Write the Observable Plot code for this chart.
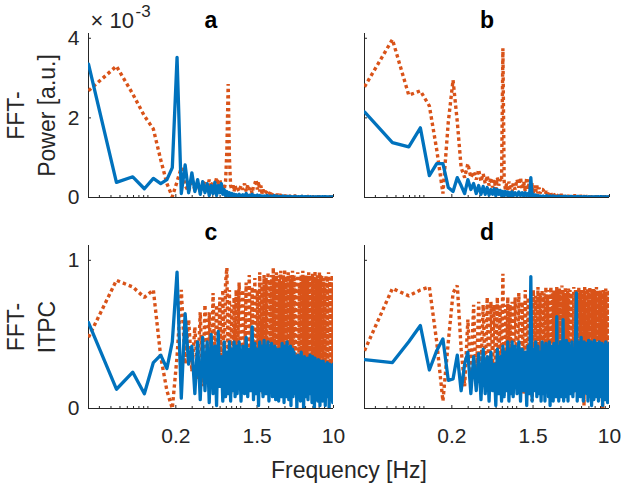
<!DOCTYPE html>
<html><head><meta charset="utf-8">
<script src="https://cdn.jsdelivr.net/npm/d3@7"></script>
<script src="https://cdn.jsdelivr.net/npm/@observablehq/plot@0.6"></script>
<style>
body{margin:0;background:#fff;}
#fig{position:relative;width:626px;height:485px;overflow:hidden;background:#fff;}
#fig svg{position:absolute;left:0;top:0;}
</style></head><body><div id="fig"></div>
<script>
// FFT bin spacing (Hz) and the bins that are drawn
const df = 0.0229;
const binsPower = [1,2,3,4,5,6,7,8,9,10,11,12,13,14,15,16,17,18,19,20,21,22,23,24,25,26,27,28,29,30,31,32,33,34,35,36,37,38,39,40,
  42,44,46,48,50,52,54,56,58,60,62,64,66,68,70,72,74,76,78,80,
  84,88,92,96,100,104,108,112,116,120,124,128,132,136,140,144,148,152,156,160,
  168,176,184,192,200,208,216,224,232,240,248,256,264,272,280,288,296,304,312,320,
  332,344,356,368,380,392,404,416,428,437];
const binsItpc = [1,2,3,4,5,6,7,8,9,10,11,12,13,14,15,16,17,18,19,20,21,22,23,24,25,26,27,28,29,30,31,32,33,34,35,36,37,38,39,40,
  42,44,46,48,50,52,54,56,58,60,62,64,66,68,70,72,74,76,78,80,
  82,84,86,88,90,92,94,96,98,100,102,104,106,108,110,112,114,116,118,120,122,124,126,128,130,132,134,136,138,140,142,144,146,148,150,152,154,156,158,160,
  164,168,172,176,180,184,188,192,196,200,204,208,212,216,220,224,228,232,236,240,244,248,252,256,260,264,268,272,276,280,284,288,292,296,300,304,308,312,316,320,
  326,332,338,344,350,356,362,368,374,380,386,392,398,404,410,416,422,428,434,437];

const xTicks = [0.2, 1.5, 10];
const xTickLabels = ["0.2", "1.5", "10"];
const xMinorTicks = [0.03,0.04,0.05,0.06,0.07,0.08,0.09,0.1,0.3,0.4,0.5,0.6,0.7,0.8,0.9,1,2,3,4,5,6,7,8,9];
const powerTicks = [0, 2, 4];        // x10^-3
const powerTickLabels = ["0", "2", "4"];
const itpcTicks = [0, 1];
const itpcTickLabels = ["0", "1"];

// Panel a: FFT power (x10^-3)
const powerA_blue = [3.35,0.38,0.52,0.22,0.48,0.35,0.45,0.75,3.52,0.1, 0.82,0.12,0.62,0.15,0.45,0.08,0.4,0.12,0.35,0.05, 0.3,0.1,0.38,0.05,0.3,0.12,0.35,0.08,0.2,0.05, 0.15,0.05,0.12,0.04,0.1,0.03,0.08,0.03,0.07,0.02,
  0.08,0.02,0.07,0.03,0.1,0.02,0.06,0.03,0.08,0.02,0.05,0.02,0.06,0.01,0.05,0.02,0.04,0.01,0.04,0.02,
  0.05,0.02,0.04,0.01,0.05,0.02,0.04,0.01,0.03,0.01,0.04,0.02,0.03,0.01,0.03,0.01,0.03,0.01,0.02,0.01,
  0.03,0.01,0.02,0.01,0.03,0.01,0.02,0.01,0.02,0.01,0.02,0.01,0.02,0.01,0.02,0.01,0.02,0.01,0.02,0.01,
  0.02,0.01,0.02,0.01,0.02,0.01,0.02,0.01,0.02,0.01];
const powerA_orange = [2.68,3.3,2.6,2.05,1.72,0.95,0.35,0.02,0.4,0.75, 0.3,0.15,0.45,0.2,0.35,0.15,0.3,0.4,0.2,0.45, 0.25,0.4,0.3,0.5,0.3,0.45,0.25,0.35,0.2,0.4, 1.2,2.85,1.0,0.3,0.2,0.35,0.15,0.3,0.2,0.25,
  0.15,0.3,0.2,0.35,0.15,0.3,0.2,0.25,0.1,0.3,0.35,0.45,0.2,0.4,0.15,0.3,0.1,0.2,0.1,0.15,
  0.12,0.05,0.15,0.06,0.1,0.04,0.08,0.03,0.07,0.03,0.06,0.02,0.05,0.02,0.05,0.02,0.04,0.02,0.04,0.02,
  0.04,0.02,0.04,0.01,0.03,0.02,0.03,0.01,0.03,0.01,0.03,0.01,0.02,0.01,0.02,0.01,0.02,0.01,0.02,0.01,
  0.02,0.01,0.02,0.01,0.02,0.01,0.02,0.01,0.02,0.01];

// Panel b: FFT power (x10^-3)
const powerB_blue = [2.15,1.38,1.27,1.75,0.55,0.85,0.85,0.25,0.15,0.5, 0.3,0.1,0.45,0.2,0.35,0.1,0.3,0.08,0.28,0.08, 0.25,0.06,0.2,0.08,0.22,0.05,0.2,0.08,0.18,0.05, 0.15,0.05,0.15,0.06,0.14,0.04,0.12,0.05,0.14,0.04,
  0.12,0.04,0.14,0.05,0.12,0.03,0.12,0.05,0.1,0.03,0.5,0.03,0.08,0.02,0.06,0.02,0.05,0.01,0.04,0.02,
  0.04,0.01,0.05,0.02,0.04,0.01,0.04,0.02,0.03,0.01,0.04,0.01,0.03,0.01,0.03,0.01,0.03,0.01,0.02,0.01,
  0.03,0.01,0.02,0.01,0.03,0.01,0.02,0.01,0.02,0.01,0.02,0.01,0.02,0.01,0.02,0.01,0.02,0.01,0.02,0.01,
  0.02,0.01,0.02,0.01,0.02,0.01,0.02,0.01,0.02,0.01];
const powerB_orange = [2.78,3.97,2.57,2.68,2.3,1.2,0.1,1.9,2.95,1.9, 0.75,0.5,0.85,0.5,0.65,0.45,0.7,0.4,0.6,0.35, 0.55,0.3,0.5,0.25,0.45,0.2,0.5,0.3,0.45,0.4, 3.75,0.4,0.2,0.35,0.15,0.4,0.2,0.3,0.15,0.35,
  0.2,0.45,0.25,0.5,0.2,0.4,0.15,0.5,0.2,0.45,0.15,0.35,0.1,0.3,0.15,0.3,0.1,0.25,0.1,0.2,
  0.2,0.08,0.15,0.06,0.15,0.05,0.12,0.04,0.1,0.04,0.08,0.03,0.08,0.03,0.06,0.02,0.05,0.02,0.05,0.02,
  0.05,0.02,0.05,0.02,0.04,0.02,0.04,0.01,0.03,0.01,0.03,0.01,0.03,0.01,0.02,0.01,0.02,0.01,0.02,0.01,
  0.02,0.01,0.02,0.01,0.02,0.01,0.02,0.01,0.02,0.01];

// Panel c: FFT ITPC
const itpcC_blue = [0.58,0.13,0.245,0.1,0.31,0.36,0.27,0.45,0.92,0.07, 0.64,0.3,0.42,0.1,0.45,0.06,0.48,0.12,0.45,0.04, 0.5,0.1,0.42,0.02,0.52,0.15,0.35,0.05,0.45,0.08, 0.38,0.1,0.45,0.05,0.4,0.12,0.45,0.08,0.42,0.1,
  0.45,0.05,0.42,0.1,0.48,0.08,0.4,0.12,0.55,0.06,0.44,0.1,0.4,0.02,0.45,0.12,0.42,0.08,0.46,0.1,
  0.42,0.1,0.45,0.05,0.4,0.12,0.44,0.08,0.38,0.1,0.42,0.06,0.4,0.12,0.38,0.05,0.4,0.1,0.36,0.08, 0.44,0.12,0.4,0.04,0.42,0.1,0.38,0.08,0.45,0.14,0.4,0.06,0.36,0.1,0.42,0.02,0.38,0.12,0.4,0.08,
  0.38,0.1,0.35,0.0,0.36,0.12,0.34,0.05,0.38,0.1,0.32,0.0,0.35,0.08,0.3,0.1,0.34,0.06,0.32,0.1, 0.36,0.12,0.33,0.04,0.35,0.1,0.31,0.0,0.34,0.08,0.32,0.12,0.3,0.05,0.33,0.1,0.31,0.02,0.32,0.08,
  0.3,0.05,0.32,0.1,0.28,0.02,0.3,0.08,0.31,0.1,0.28,0.0,0.3,0.06,0.29,0.1,0.27,0.04,0.3,0.2];
const itpcC_orange = [0.48,0.865,0.82,0.75,0.8,0.35,0.12,0.0,0.35,0.8, 0.3,0.6,0.25,0.55,0.2,0.65,0.15,0.7,0.25,0.65, 0.2,0.78,0.3,0.7,0.15,0.75,0.25,0.8,0.2,0.85, 0.95,0.2,0.8,0.1,0.7,0.2,0.75,0.15,0.8,0.2,
  0.85,0.15,0.8,0.25,0.85,0.1,0.9,0.2,0.82,0.15,0.88,0.1,0.8,0.2,0.92,0.15,0.85,0.1,0.9,0.2,
  0.88,0.15,0.92,0.1,0.85,0.2,0.9,0.12,0.95,0.15,0.88,0.1,0.92,0.2,0.85,0.15,0.9,0.1,0.93,0.2, 0.86,0.12,0.9,0.18,0.94,0.1,0.87,0.2,0.9,0.14,0.92,0.1,0.85,0.2,0.9,0.12,0.88,0.16,0.93,0.1,
  0.9,0.15,0.88,0.1,0.92,0.2,0.85,0.12,0.9,0.15,0.93,0.1,0.88,0.2,0.9,0.15,0.87,0.1,0.92,0.15, 0.9,0.12,0.86,0.2,0.91,0.1,0.89,0.15,0.93,0.12,0.88,0.2,0.9,0.1,0.87,0.15,0.92,0.12,0.9,0.18,
  0.9,0.1,0.88,0.2,0.85,0.15,0.9,0.1,0.87,0.18,0.92,0.12,0.88,0.15,0.86,0.1,0.9,0.2,0.85,0.6];

// Panel d: FFT ITPC
const itpcD_blue = [0.33,0.31,0.45,0.56,0.26,0.39,0.47,0.19,0.2,0.36, 0.12,0.3,0.38,0.1,0.35,0.12,0.37,0.06,0.4,0.1, 0.35,0.05,0.38,0.12,0.3,0.02,0.4,0.1,0.35,0.05, 0.42,0.08,0.38,0.12,0.45,0.05,0.4,0.1,0.45,0.08,
  0.42,0.1,0.45,0.05,0.4,0.12,0.38,0.02,0.42,0.1,0.89,0.05,0.4,0.12,0.45,0.08,0.42,0.1,0.38,0.05,
  0.45,0.1,0.42,0.05,0.44,0.12,0.4,0.08,0.45,0.02,0.42,0.1,0.4,0.05,0.44,0.1,0.4,0.08,0.62,0.1, 0.42,0.05,0.4,0.12,0.45,0.08,0.42,0.1,0.6,0.05,0.44,0.1,0.4,0.08,0.46,0.1,0.42,0.05,0.44,0.1,
  0.42,0.1,0.45,0.08,0.4,0.12,0.45,0.78,0.05,0.45,0.12,0.4,0.08,0.48,0.1,0.42,0.05,0.45,0.12,0.4, 0.44,0.1,0.42,0.05,0.46,0.12,0.4,0.08,0.45,0.02,0.43,0.1,0.4,0.06,0.46,0.12,0.42,0.08,0.44,0.1,
  0.4,0.05,0.45,0.1,0.42,0.08,0.44,0.02,0.4,0.1,0.43,0.06,0.45,0.12,0.4,0.04,0.42,0.1,0.44,0.3];
const itpcD_orange = [0.39,0.81,0.76,0.8,0.82,0.45,0.05,0.45,0.78,0.83, 0.4,0.15,0.6,0.2,0.7,0.15,0.72,0.25,0.7,0.2, 0.75,0.15,0.72,0.3,0.7,0.15,0.75,0.2,0.7,0.3, 0.91,0.2,0.7,0.15,0.75,0.25,0.7,0.1,0.72,0.2,
  0.75,0.15,0.78,0.25,0.72,0.1,0.8,0.2,0.75,0.15,0.78,0.05,0.8,0.2,0.76,0.15,0.82,0.1,0.78,0.2,
  0.8,0.15,0.78,0.1,0.82,0.2,0.75,0.12,0.8,0.15,0.82,0.05,0.78,0.2,0.8,0.15,0.76,0.1,0.82,0.2, 0.79,0.12,0.81,0.18,0.77,0.1,0.83,0.15,0.8,0.2,0.78,0.1,0.82,0.14,0.76,0.2,0.8,0.1,0.81,0.16,
  0.8,0.15,0.78,0.1,0.82,0.2,0.8,0.12,0.78,0.15,0.82,0.1,0.8,0.2,0.78,0.15,0.8,0.02,0.82,0.15, 0.79,0.12,0.81,0.2,0.78,0.1,0.82,0.15,0.8,0.05,0.79,0.18,0.81,0.12,0.8,0.15,0.78,0.1,0.82,0.2,
  0.8,0.1,0.78,0.2,0.8,0.15,0.78,0.0,0.8,0.12,0.79,0.18,0.81,0.1,0.8,0.15,0.78,0.05,0.8,0.6];

const BLUE = "#0072BD", ORANGE = "#D95319", AX = "#262626";
const FONT = "'Liberation Sans', Arial, Helvetica, sans-serif";
const W = 626, H = 485;

function rows(bins, vals) { return bins.map((k, i) => ({f: k * df, v: vals[i]})); }

function panel(o) {
  const tickY = o.ymax * 3 / (o.B - o.T);
  const minorY = o.ymax * 2 / (o.B - o.T);
  const tickXr = df * Math.pow(10 / df, 3 / (o.R - o.L));
  const marks = [
    Plot.ruleX([df], {x: d => d, stroke: AX, strokeWidth: 1}),
    Plot.ruleY([0], {y: d => d, stroke: AX, strokeWidth: 1}),
    Plot.ruleX(xTicks, {x: d => d, y1: 0, y2: tickY, stroke: AX, strokeWidth: 1}),
    Plot.ruleX(xMinorTicks, {x: d => d, y1: 0, y2: minorY, stroke: AX, strokeWidth: 1}),
    Plot.ruleY(o.yTicks, {y: d => d, x1: df, x2: tickXr, stroke: AX, strokeWidth: 1}),
    Plot.line(rows(o.bins, o.orange), {x: "f", y: "v", stroke: ORANGE, strokeWidth: 3.4, strokeDasharray: "3.4,3", strokeLinecap: "butt", strokeLinejoin: "miter", clip: true}),
    Plot.line(rows(o.bins, o.blue), {x: "f", y: "v", stroke: BLUE, strokeWidth: 3.3, clip: true}),
    Plot.text([o.title], {text: d => d, frameAnchor: "top", dy: -13, fontSize: 23, fontWeight: "bold", fill: "#000", textAnchor: "middle", lineAnchor: "middle"})
  ];
  if (o.xLabels) {
    marks.push(Plot.text(xTicks, {x: d => d, text: (d, i) => xTickLabels[i], frameAnchor: "bottom", dy: 20, lineAnchor: "top", textAnchor: "middle", fontSize: 21, fill: AX}));
  }
  if (o.yLabels) {
    marks.push(Plot.text(o.yTicks, {y: d => d, text: (d, i) => o.yTickLabels[i], frameAnchor: "left", dx: -9, textAnchor: "end", lineAnchor: "middle", fontSize: 21, fill: AX}));
    marks.push(Plot.text([o.ylabel], {text: d => d, frameAnchor: "left", dx: -58.5, rotate: -90, fontSize: 23, lineHeight: 1.35, textAnchor: "middle", lineAnchor: "middle", fill: AX}));
  }
  if (o.extra) marks.push(...o.extra);
  return Plot.plot({
    width: W, height: H,
    marginLeft: o.L, marginRight: W - o.R, marginTop: o.T, marginBottom: H - o.B,
    style: {background: "transparent", fontFamily: FONT, fontSize: "21px", color: AX, overflow: "visible"},
    x: {type: "log", domain: [df, 10], axis: null},
    y: {domain: [0, o.ymax], axis: null},
    marks
  });
}

const fig = document.getElementById("fig");
fig.append(panel({L: 88, R: 333, T: 33, B: 197, ymax: 4.12, yTicks: powerTicks, yTickLabels: powerTickLabels, yLabels: true, xLabels: false,
  title: "a", ylabel: "FFT-\nPower [a.u.]", bins: binsPower, blue: powerA_blue, orange: powerA_orange,
  extra: [
    Plot.text(["× 10"], {text: d => d, frameAnchor: "top-left", dx: 2, dy: -13, textAnchor: "start", lineAnchor: "middle", fontSize: 22, fill: AX}),
    Plot.text(["-3"], {text: d => d, frameAnchor: "top-left", dx: 47, dy: -22, textAnchor: "start", lineAnchor: "middle", fontSize: 17, fill: AX})
  ]}));
fig.append(panel({L: 364, R: 609, T: 33, B: 197, ymax: 4.12, yTicks: powerTicks, yLabels: false, xLabels: false,
  title: "b", bins: binsPower, blue: powerB_blue, orange: powerB_orange}));
fig.append(panel({L: 88, R: 333, T: 245, B: 408, ymax: 1.1, yTicks: itpcTicks, yTickLabels: itpcTickLabels, yLabels: true, xLabels: true,
  title: "c", ylabel: "FFT-\nITPC", bins: binsItpc, blue: itpcC_blue, orange: itpcC_orange,
  extra: [
    Plot.text(["Frequency [Hz]"], {text: d => d, frameAnchor: "bottom", dx: 138, dy: 62, fontSize: 23, textAnchor: "middle", lineAnchor: "middle", fill: AX})
  ]}));
fig.append(panel({L: 364, R: 609, T: 245, B: 408, ymax: 1.1, yTicks: itpcTicks, yLabels: false, xLabels: true,
  title: "d", bins: binsItpc, blue: itpcD_blue, orange: itpcD_orange}));
</script></body></html>
